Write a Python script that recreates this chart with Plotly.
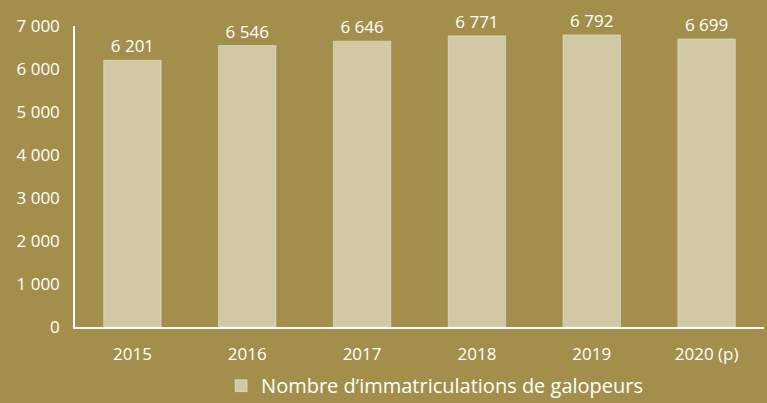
# Bar chart: number of gallop horse registrations per year
import plotly.graph_objects as go

years = ["2015", "2016", "2017", "2018", "2019", "2020 (p)"]
registrations = [6201, 6546, 6646, 6771, 6792, 6699]
series_name = "Nombre d’immatriculations de galopeurs"
y_ticks = [0, 1000, 2000, 3000, 4000, 5000, 6000, 7000]

BG = "#A38F4B"
BAR = "#D1C9A4"
FONT = "'Open Sans', 'Noto Sans', sans-serif"


def fr_number(v):
    # "6 201" style: space as thousands separator
    return f"{v:,}".replace(",", " ")


fig = go.Figure()
fig.add_trace(go.Bar(
    x=years,
    y=registrations,
    name=series_name,
    marker=dict(color=BAR),
    text=[fr_number(v) for v in registrations],
    textposition="outside",
    textfont=dict(color="white", size=17, family=FONT),
    cliponaxis=False,
    showlegend=True,
))

fig.update_layout(
    width=767,
    height=403,
    paper_bgcolor=BG,
    plot_bgcolor=BG,
    margin=dict(l=75, r=3, t=26, b=76, autoexpand=False),
    bargap=0.5,
    font=dict(family=FONT, color="white", size=17),
    legend=dict(
        orientation="h",
        x=0.212, xanchor="left",
        y=-0.13, yanchor="top",
        font=dict(size=20, color="white"),
        itemwidth=30,
    ),
    xaxis=dict(
        showline=True, linecolor="white", linewidth=1.5,
        ticklabelstandoff=11,
        showgrid=False, automargin=False,
    ),
    yaxis=dict(
        range=[0, 7000],
        tickvals=y_ticks,
        ticktext=[fr_number(v) for v in y_ticks],
        showline=True, linecolor="white", linewidth=1.5,
        ticklabelstandoff=10,
        showgrid=False, zeroline=False, automargin=False,
    ),
)

# drop the default body margin so the figure fills the window exactly
fig.write_html(
    "out.html",
    config={"displayModeBar": False},
    post_script="document.body.style.margin = '0';",
)
